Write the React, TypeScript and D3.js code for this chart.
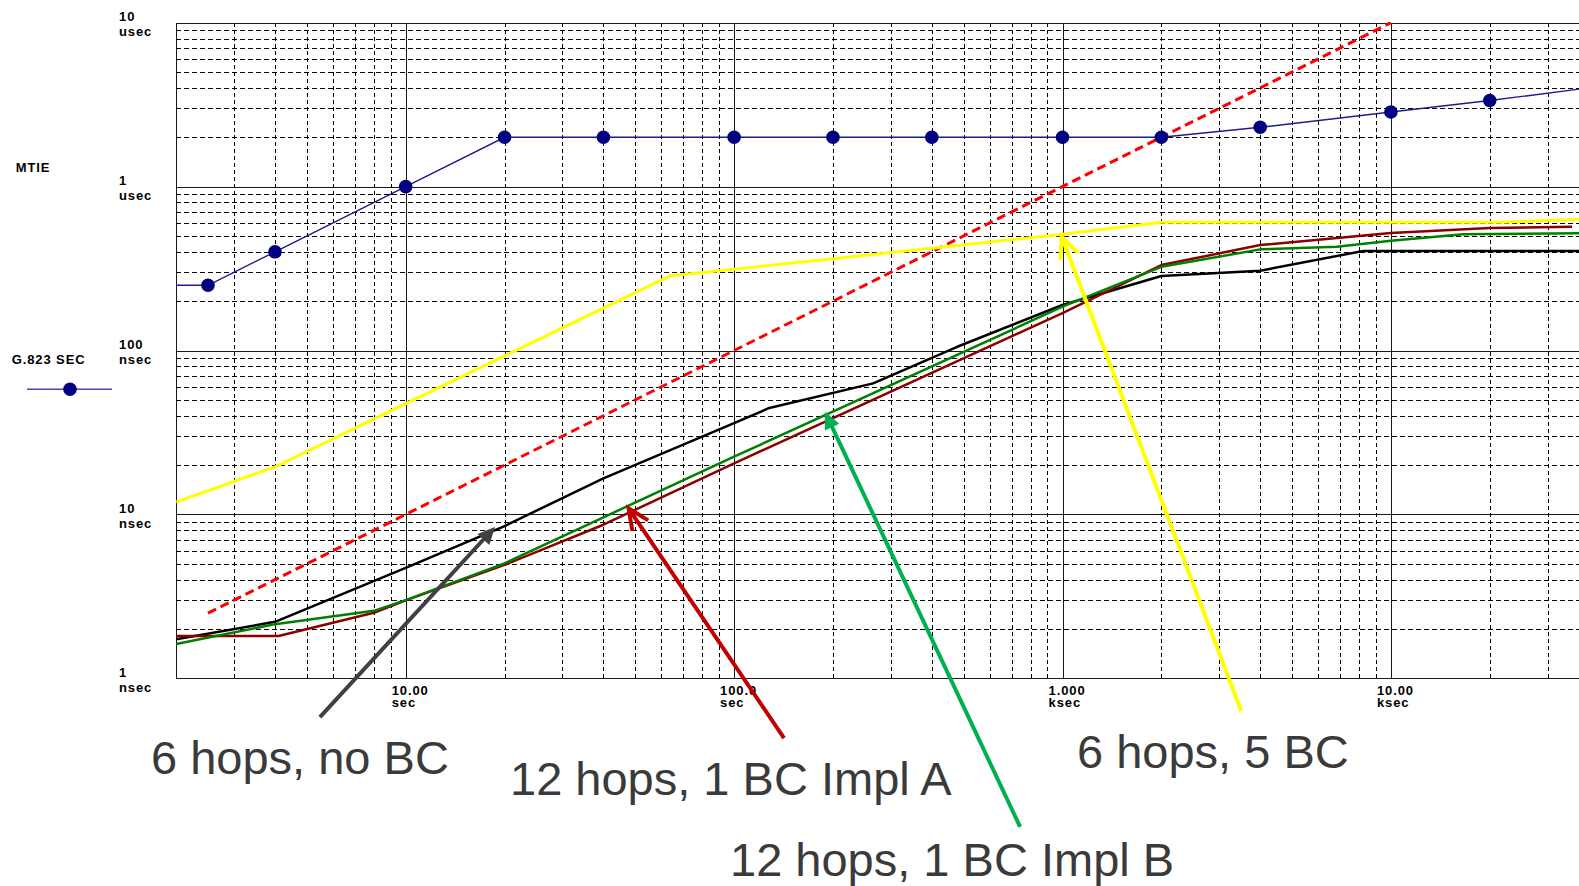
import React from 'react';
import * as d3 from 'd3';

const W = 1579;
const H = 886;

// Axis ticks: observation interval (s) and MTIE (ns)
const xTickValues = [10, 100, 1000, 10000];
const xTickLabels = [['10.00', 'sec'], ['100.0', 'sec'], ['1.000', 'ksec'], ['10.00', 'ksec']];
const yTickValues = [1, 10, 100, 1000, 10000];
const yTickLabels = [['1', 'nsec'], ['10', 'nsec'], ['100', 'nsec'], ['1', 'usec'], ['10', 'usec']];

// G.823 SEC MTIE mask
const g823Tau = [2, 2.5, 4, 10, 20, 40, 100, 200, 400, 1000, 2000, 4000, 10000, 20000, 40000];
const g823Ns = [250, 250, 400, 1000, 2000, 2000, 2000, 2000, 2000, 2000, 2000, 2300, 2850, 3350, 4000];
const g823MarkerTau = [2.5, 4, 10, 20, 40, 100, 200, 400, 1000, 2000, 4000, 10000, 20000];

// Reference slope line
const refTau = [2.5, 10000];
const refNs = [2.5, 10000];

// 6 hops, 5 BC
const bc5Tau = [2, 4, 64, 100, 1000, 2000, 22000, 40000];
const bc5Ns = [11.9, 19.5, 286, 313, 512, 606, 606, 635];

// 6 hops, no BC
const noBcTau = [2, 4, 10, 20, 40, 100, 128, 265, 476, 1000, 2000, 4000, 8240, 40000];
const noBcNs = [1.73, 2.21, 4.72, 8.49, 16.6, 36, 44.6, 63, 105, 189.5, 285, 307, 405, 405];

// 12 hops, 1 BC Impl B
const implBTau = [2, 4, 8, 10, 20, 40, 100, 1000, 2000, 4000, 6840, 10000, 16600, 40000];
const implBNs = [1.62, 2.14, 2.58, 3.0, 5.03, 9.6, 22.5, 185, 324, 414, 430, 467, 512, 519];

// 12 hops, 1 BC Impl A
const implATau = [2, 4.1, 8, 10, 20, 40, 100, 1000, 2000, 4000, 10000, 20000, 35600];
const implANs = [1.81, 1.81, 2.51, 2.99, 4.92, 8.65, 20.5, 169, 332, 440, 521, 559, 569];

// Callouts: arrow tip and tail in data space (s, ns)
const calloutText = ['6 hops, no BC', '12 hops, 1 BC Impl A', '12 hops, 1 BC Impl B', '6 hops, 5 BC'];
const calloutTipTau = [18.7, 47.7, 189, 995];
const calloutTipNs = [8.38, 10.9, 42.3, 494];
const calloutTailTau = [5.48, 141.9, 743, 3500];
const calloutTailNs = [0.58, 0.432, 0.124, 0.632];

const x = d3.scaleLog().domain([10, 10000]).range([405.7, 1390.9]);
const y = d3.scaleLog().domain([1, 10000]).range([678.3, 22.7]);

const plotLeft = x(2);
const plotTop = y(10000);
const plotBottom = y(1);

const line = d3
  .line<[number, number]>()
  .x((d) => x(d[0]))
  .y((d) => y(d[1]));

const zip = (a: number[], b: number[]): [number, number][] => a.map((v, i) => [v, b[i]]);

const calloutStyle = [
  { color: '#404040', head: 'filled' },
  { color: '#c00000', head: 'open' },
  { color: '#00b050', head: 'filled' },
  { color: '#ffff00', head: 'open' },
];
const calloutTextPos = [
  { x: 151, y: 774 },
  { x: 510, y: 795 },
  { x: 730, y: 876 },
  { x: 1077, y: 768 },
];

function Arrow({ x0, y0, x1, y1, color, head }: any) {
  const dx = x1 - x0;
  const dy = y1 - y0;
  const len = Math.hypot(dx, dy);
  const ux = dx / len;
  const uy = dy / len;
  const nx = -uy;
  const ny = ux;
  const L = head === 'filled' ? 17 : 21;
  const hw = head === 'filled' ? 8 : 9.5;
  const bx = x1 - ux * L;
  const by = y1 - uy * L;
  const p1 = [bx + nx * hw, by + ny * hw];
  const p2 = [bx - nx * hw, by - ny * hw];
  if (head === 'filled') {
    return (
      <g>
        <line x1={x0} y1={y0} x2={x1 - ux * L * 0.6} y2={y1 - uy * L * 0.6} stroke={color} strokeWidth={4} />
        <polygon points={`${x1},${y1} ${p1[0]},${p1[1]} ${p2[0]},${p2[1]}`} fill={color} />
      </g>
    );
  }
  return (
    <g>
      <line x1={x0} y1={y0} x2={x1 - ux * 1.5} y2={y1 - uy * 1.5} stroke={color} strokeWidth={4} />
      <polyline
        points={`${p1[0]},${p1[1]} ${x1},${y1} ${p2[0]},${p2[1]}`}
        fill="none"
        stroke={color}
        strokeWidth={4}
        strokeLinejoin="miter"
      />
    </g>
  );
}

export default function App() {
  const xGrid: { v: number; major: boolean }[] = [];
  for (const d of [1, 10, 100, 1000, 10000]) {
    for (let k = 1; k <= 9; k++) {
      const v = k * d;
      if (v > 2 && v <= 40000) xGrid.push({ v, major: k === 1 });
    }
  }
  const yGrid: { v: number; major: boolean }[] = [];
  for (const d of [1, 10, 100, 1000]) {
    for (let k = 1; k <= 9; k++) {
      const v = k * d;
      if (v > 1) yGrid.push({ v, major: k === 1 });
    }
  }

  const axisFont = {
    fontFamily: '"Liberation Sans", Arial, sans-serif',
    fontWeight: 700,
    fontSize: 13,
    letterSpacing: 0.9,
  } as const;

  const series = [
    { t: bc5Tau, v: bc5Ns, color: '#ffff00', w: 3 },
    { t: noBcTau, v: noBcNs, color: '#000000', w: 2.5 },
    { t: implATau, v: implANs, color: '#8b0000', w: 2.5 },
    { t: implBTau, v: implBNs, color: '#008000', w: 2.5 },
  ];

  const px = (v: number) => Math.round(v) + 0.5;

  return (
    <svg
      width={W}
      height={H}
      style={{ position: 'absolute', left: 0, top: 0, background: '#fff' }}
    >
      <defs>
        <clipPath id="plot">
          <rect x={plotLeft} y={plotTop - 1} width={W - plotLeft} height={plotBottom - plotTop + 2} />
        </clipPath>
      </defs>
      <rect x={0} y={0} width={W} height={H} fill="#fff" />

      {/* grid */}
      <g clipPath="url(#plot)" shapeRendering="crispEdges">
        {yGrid.map((g) => (
          <line
            key={'y' + g.v}
            x1={plotLeft}
            x2={W}
            y1={px(y(g.v))}
            y2={px(y(g.v))}
            stroke={g.major ? '#1a1a1a' : '#000'}
            strokeWidth={g.major ? 1.6 : 1}
            strokeDasharray={g.major ? undefined : '5 3'}
          />
        ))}
        {xGrid.map((g) => (
          <line
            key={'x' + g.v}
            x1={px(x(g.v))}
            x2={px(x(g.v))}
            y1={plotTop}
            y2={plotBottom}
            stroke={g.major ? '#1a1a1a' : '#000'}
            strokeWidth={g.major ? 1.6 : 1}
            strokeDasharray={g.major ? undefined : '4 3'}
          />
        ))}
      </g>
      {/* frame */}
      <g shapeRendering="crispEdges" stroke="#1a1a1a" strokeWidth={1.6}>
        <line x1={plotLeft} x2={W} y1={px(plotTop)} y2={px(plotTop)} />
        <line x1={plotLeft} x2={W} y1={px(plotBottom)} y2={px(plotBottom)} />
        <line x1={px(plotLeft)} x2={px(plotLeft)} y1={plotTop} y2={plotBottom} />
      </g>

      {/* y tick labels */}
      {yTickValues.map((v, i) => (
        <g key={'yl' + v} style={axisFont} fill="#000">
          <text x={119} y={y(v) - 1.7}>{yTickLabels[i][0]}</text>
          <text x={119} y={y(v) + 13.3}>{yTickLabels[i][1]}</text>
        </g>
      ))}
      {/* x tick labels */}
      {xTickValues.map((v, i) => (
        <g key={'xl' + v} style={axisFont} fill="#000">
          <text x={x(v) - 14} y={695}>{xTickLabels[i][0]}</text>
          <text x={x(v) - 14} y={707}>{xTickLabels[i][1]}</text>
        </g>
      ))}

      {/* legend */}
      <text x={15.7} y={171.7} style={axisFont} fill="#000">MTIE</text>
      <text x={11.7} y={364} style={axisFont} fill="#000">G.823 SEC</text>
      <line x1={27} x2={112} y1={389.3} y2={389.3} stroke="#4848b0" strokeWidth={1.5} />
      <circle cx={70} cy={389.3} r={6.8} fill="#000080" />

      {/* data */}
      <g clipPath="url(#plot)" fill="none">
        <path
          d={line(zip(refTau, refNs)) || ''}
          stroke="#ff0000"
          strokeWidth={3}
          strokeDasharray="9 5"
        />
        {series.map((s, i) => (
          <path key={i} d={line(zip(s.t, s.v)) || ''} stroke={s.color} strokeWidth={s.w} strokeLinejoin="round" />
        ))}
        <path d={line(zip(g823Tau, g823Ns)) || ''} stroke="#1c1c8c" strokeWidth={1.4} />
        {g823MarkerTau.map((t) => (
          <circle key={t} cx={x(t)} cy={y(g823Ns[g823Tau.indexOf(t)])} r={6.8} fill="#000080" />
        ))}
      </g>

      {/* callouts */}
      {calloutText.map((txt, i) => (
        <g key={txt}>
          <Arrow
            x0={x(calloutTailTau[i])}
            y0={y(calloutTailNs[i])}
            x1={x(calloutTipTau[i])}
            y1={y(calloutTipNs[i])}
            color={calloutStyle[i].color}
            head={calloutStyle[i].head}
          />
          <text
            x={calloutTextPos[i].x}
            y={calloutTextPos[i].y}
            fill="#3a3a3a"
            style={{ fontFamily: '"Liberation Sans", Arial, sans-serif', fontSize: 47 }}
          >
            {txt}
          </text>
        </g>
      ))}
    </svg>
  );
}
